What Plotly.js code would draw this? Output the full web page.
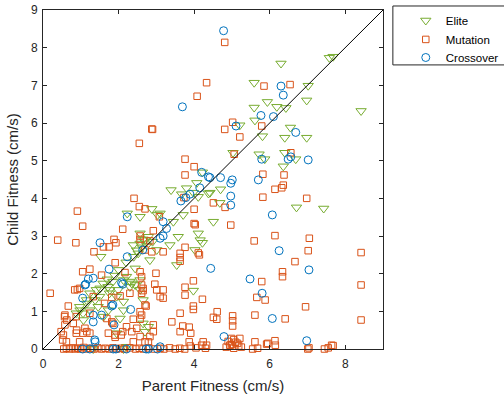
<!DOCTYPE html>
<html>
<head>
<meta charset="utf-8">
<script src="https://cdn.plot.ly/plotly-3.0.1.min.js"></script>
<style>html,body{margin:0;padding:0;background:#fff;}#chart{width:504px;height:397px;}</style>
</head>
<body>
<div id="chart"></div>
<script>
// Elite (parent fitness, child fitness)
var eliteX = [7.68,7.58,6.30,5.59,7.02,6.98,8.42,5.94,5.59,6.19,6.43,5.61,5.21,6.55,5.81,6.40,6.98,5.03,5.72,5.87,6.40,6.69,6.36,4.70,4.42,4.68,6.71,7.43,
4.22,3.39,3.80,4.07,4.38,3.98,3.67,2.88,4.11,2.23,2.57,3.71,4.51,3.45,4.11,3.58,4.16,4.02,3.36,3.01,2.39,2.83,2.52,3.54,2.44,2.21,2.57,2.30,2.70,2.79,2.57,2.65,
4.22,3.98,3.10,3.03,2.57,1.53,2.13,1.77,1.51,1.95,2.30,2.57,2.65,1.38,1.16,0.98,1.24,1.46,1.73,2.13,1.60,2.04,1.07,2.79,2.70,1.95,2.21,1.29,
0.97,1.15,1.24,1.41,1.50,1.59,1.72,1.76,1.85,1.99,1.06,0.88,2.35,2.13,2.65,2.44,1.33,2.13,
2.62,2.75,2.48,2.90,2.20,2.00,1.90,1.70,2.40];
var eliteY = [7.76,7.73,7.58,7.07,6.99,6.60,6.32,6.56,6.41,6.43,6.40,6.07,5.94,5.88,5.65,5.61,5.61,5.21,5.17,5.04,5.21,5.04,4.85,4.24,4.15,3.88,3.76,3.73,
4.69,4.22,4.27,4.41,4.13,4.15,4.11,3.72,4.04,3.60,3.51,3.56,3.38,3.38,3.07,2.98,2.89,2.63,2.76,2.63,2.76,2.36,2.54,2.23,2.14,1.92,1.83,1.79,2.89,2.98,3.07,2.91,
2.82,1.55,3.60,3.56,2.80,2.45,1.83,1.57,1.61,1.39,1.65,1.57,1.30,1.30,1.21,1.03,1.03,1.12,1.03,1.03,0.86,0.81,0.77,0.59,0.46,0.42,0.06,0.02,
1.12,1.30,1.48,1.57,1.39,1.74,1.65,1.48,1.79,1.57,0.95,0.95,1.74,1.26,0.68,1.70,0.00,0.00,
2.70,2.75,2.62,2.85,2.30,2.10,1.95,1.85,2.45];

// Mutation
var mutationX = [4.81,5.85,6.54,5.02,4.81,5.79,5.21,5.06,6.56,5.82,6.38,6.36,6.32,6.14,5.82,6.98,4.51,4.82,
4.33,4.08,2.88,2.90,2.55,3.76,4.00,3.76,2.41,2.55,2.70,0.91,3.73,4.00,
3.08,4.00,4.03,2.11,2.92,2.57,2.57,2.83,3.18,3.76,4.11,3.63,3.63,3.63,2.88,2.70,2.99,2.61,3.98,
4.97,6.14,5.59,4.14,6.34,6.34,3.76,3.76,4.22,3.18,3.18,5.79,5.66,5.88,3.98,3.98,4.61,4.51,4.60,5.02,5.02,5.02,5.61,6.41,3.63,3.41,3.70,3.87,3.63,3.91,4.99,5.21,5.61,6.14,5.92,
7.05,7.02,6.67,8.42,8.42,6.95,8.42,7.04,7.55,7.68,
1.05,0.39,0.87,1.88,1.93,1.75,1.60,1.35,1.91,1.05,1.24,1.55,0.19,0.91,1.33,0.67,1.82,2.04,2.73,2.61,2.65,0.58,0.63,0.58,0.80,0.89,1.11,1.16,0.54,0.52,1.69,1.82,2.21,2.35,2.48,2.57,2.83,2.92,1.91,1.73,2.70,2.96,2.65,3.01,3.10,2.17,2.57,
0.57,0.48,0.62,0.88,1.06,1.24,0.97,0.84,0.97,0.88,1.24,1.63,1.85,1.90,2.07,
2.61,2.30,2.61,2.70,2.57,2.39,2.57,2.11,2.39,2.79,2.92,3.87,4.24,4.33,
0.55,0.62,0.70,0.78,0.85,0.92,1.00,1.08,1.15,1.25,1.35,1.45,1.55,1.65,1.75,1.85,1.95,2.05,2.15,2.30,2.45,2.55,2.65,2.80,2.95,3.10,3.20,3.35,3.50,3.62,3.75,3.90,4.05,4.20,4.30,4.85,4.95,5.05,5.15,5.25,5.55,5.68,5.95,6.15,7.01,7.45,7.64,
4.90,5.00,5.10,5.18,5.05,4.95];
var mutationY = [8.14,6.98,7.02,6.02,5.83,5.92,5.63,5.17,5.21,4.64,4.62,4.35,4.28,4.24,4.03,4.00,3.88,3.76,
7.07,6.71,5.84,5.83,5.46,5.04,4.84,4.62,4.00,3.78,3.72,3.66,4.02,3.71,
3.51,3.33,3.30,3.18,3.14,3.00,2.91,2.87,2.58,2.70,2.55,2.54,2.43,2.33,2.58,2.63,2.01,1.92,1.81,
3.29,3.01,2.87,2.50,2.05,1.92,1.64,1.43,1.32,1.57,1.35,1.79,1.37,1.30,1.14,1.05,0.99,0.84,0.79,0.88,0.75,0.61,0.90,0.80,0.95,0.72,0.61,0.58,0.46,0.42,0.28,0.28,0.19,0.22,0.13,
2.94,2.61,2.32,2.56,1.70,1.12,0.77,0.03,0.03,0.09,
3.26,2.89,2.82,2.91,2.82,2.71,2.71,2.58,2.29,2.05,2.12,1.96,1.48,1.58,1.39,1.14,1.37,1.41,1.14,0.90,1.55,0.90,0.77,0.64,0.68,0.50,0.55,0.46,0.37,0.24,0.81,0.72,0.59,0.46,0.55,0.33,0.33,0.46,0.31,0.42,0.19,1.72,1.61,1.57,1.39,2.03,2.05,
0.86,0.46,0.19,0.42,0.42,0.42,0.19,1.57,1.61,0.86,0.95,1.21,0.68,0.37,0.37,
1.70,1.48,1.48,1.17,0.99,0.79,0.79,0.46,0.19,0.19,0.64,0.19,0.19,0.10,
0.00,0.02,0.00,0.03,0.00,0.02,0.00,0.04,0.00,0.02,0.00,0.03,0.00,0.02,0.00,0.03,0.00,0.02,0.00,0.03,0.00,0.02,0.00,0.03,0.00,0.02,0.00,0.03,0.00,0.02,0.00,0.08,0.03,0.10,0.02,0.05,0.10,0.02,0.15,0.05,0.00,0.02,0.15,0.10,0.00,0.00,0.10,
0.20,0.12,0.18,0.08,0.25,0.10];

// Crossover
var crossX = [4.78,6.30,6.36,5.77,6.10,5.11,6.69,5.79,6.49,6.56,7.02,4.70,4.42,5.01,4.97,5.70,4.97,4.97,3.69,4.20,4.38,4.15,3.89,3.78,3.65,
2.23,3.18,3.27,3.18,3.10,2.64,2.23,4.44,2.08,1.51,1.75,1.33,1.20,1.11,1.05,1.33,1.55,1.33,1.82,1.88,2.32,1.38,
1.05,1.24,1.86,1.93,2.21,2.73,2.79,3.03,6.98,3.10,6.07,6.25,5.48,5.80,6.07,4.79,7.04,2.11,1.85,1.37,1.13];
var crossY = [8.45,6.98,6.74,6.20,6.17,5.92,5.75,5.04,5.04,5.10,5.02,4.55,4.55,4.49,4.40,4.49,4.06,3.82,6.43,4.69,4.57,4.28,4.11,4.02,3.93,
3.51,3.38,3.20,3.00,2.94,2.63,2.45,2.14,1.76,2.82,2.12,1.88,1.86,1.70,1.35,0.90,0.90,0.72,1.14,0.64,1.05,0.19,
0.00,0.00,0.00,0.00,0.00,0.00,0.00,0.00,0.22,0.06,3.56,2.61,1.86,1.48,0.81,0.33,2.10,1.72,1.17,0.24,1.72];

// Reference diagonal y = x
var diagX = [0, 9];
var diagY = [0, 9];

var xTicks = [0, 2, 4, 6, 8];
var yTicks = [0, 1, 2, 3, 4, 5, 6, 7, 8, 9];

var FONT = 'Liberation Sans, Arial, sans-serif';

var traces = [
  {x: eliteX, y: eliteY, name: 'Elite', type: 'scatter', mode: 'markers', cliponaxis: false, legend: 'legend',
   marker: {symbol: 'triangle-down-open', size: 9, color: '#77AC30', line: {width: 1, color: '#77AC30'}}},
  {x: mutationX, y: mutationY, name: 'Mutation', type: 'scatter', mode: 'markers', cliponaxis: false, legend: 'legend2',
   marker: {symbol: 'square-open', size: 6.5, color: '#D95319', line: {width: 1, color: '#D95319'}}},
  {x: crossX, y: crossY, name: 'Crossover', type: 'scatter', mode: 'markers', cliponaxis: false, legend: 'legend3',
   marker: {symbol: 'circle-open', size: 8, color: '#0072BD', line: {width: 1, color: '#0072BD'}}},
  {x: diagX, y: diagY, type: 'scatter', mode: 'lines', showlegend: false, hoverinfo: 'skip',
   line: {color: '#000000', width: 1}}
];

var axisCommon = {
  showgrid: false, zeroline: false, showline: true, linecolor: '#262626', linewidth: 1,
  mirror: 'ticks', ticks: 'inside', ticklen: 4, tickcolor: '#262626', tickwidth: 1,
  automargin: false,
  tickfont: {family: FONT, size: 12, color: '#262626'}
};

function legendAt(ytop) {
  return {
    x: 1.067, y: ytop, xanchor: 'left', yanchor: 'top',
    borderwidth: 0, bgcolor: 'rgba(0,0,0,0)',
    font: {family: FONT, size: 11.5, color: '#000000'}
  };
}

var layout = {
  width: 504, height: 397,
  margin: {l: 43, r: 121, t: 10, b: 48, pad: 0, autoexpand: false},
  paper_bgcolor: '#ffffff', plot_bgcolor: '#ffffff',
  showlegend: true,
  xaxis: Object.assign({}, axisCommon, {
    range: [0, 9], tickvals: xTicks, ticktext: xTicks.map(String), ticklabelstandoff: 4,
    title: {text: 'Parent Fitness (cm/s)', standoff: 10, font: {family: FONT, size: 15, color: '#262626'}}
  }),
  yaxis: Object.assign({}, axisCommon, {
    range: [0, 9], tickvals: yTicks, ticktext: yTicks.map(String), ticklabelstandoff: 2,
    title: {text: 'Child Fitness (cm/s)', standoff: 8, font: {family: FONT, size: 15, color: '#262626'}}
  }),
  legend: legendAt(1.0118),
  legend2: legendAt(0.956),
  legend3: legendAt(0.9027),
  shapes: [
    {type: 'rect', xref: 'paper', yref: 'paper', x0: 1.029, x1: 1.40, y0: 0.838, y1: 1.0118,
     line: {color: '#262626', width: 1}, fillcolor: 'rgba(0,0,0,0)', layer: 'below'}
  ]
};

Plotly.newPlot('chart', traces, layout, {displayModeBar: false, staticPlot: true});
</script>
</body>
</html>
